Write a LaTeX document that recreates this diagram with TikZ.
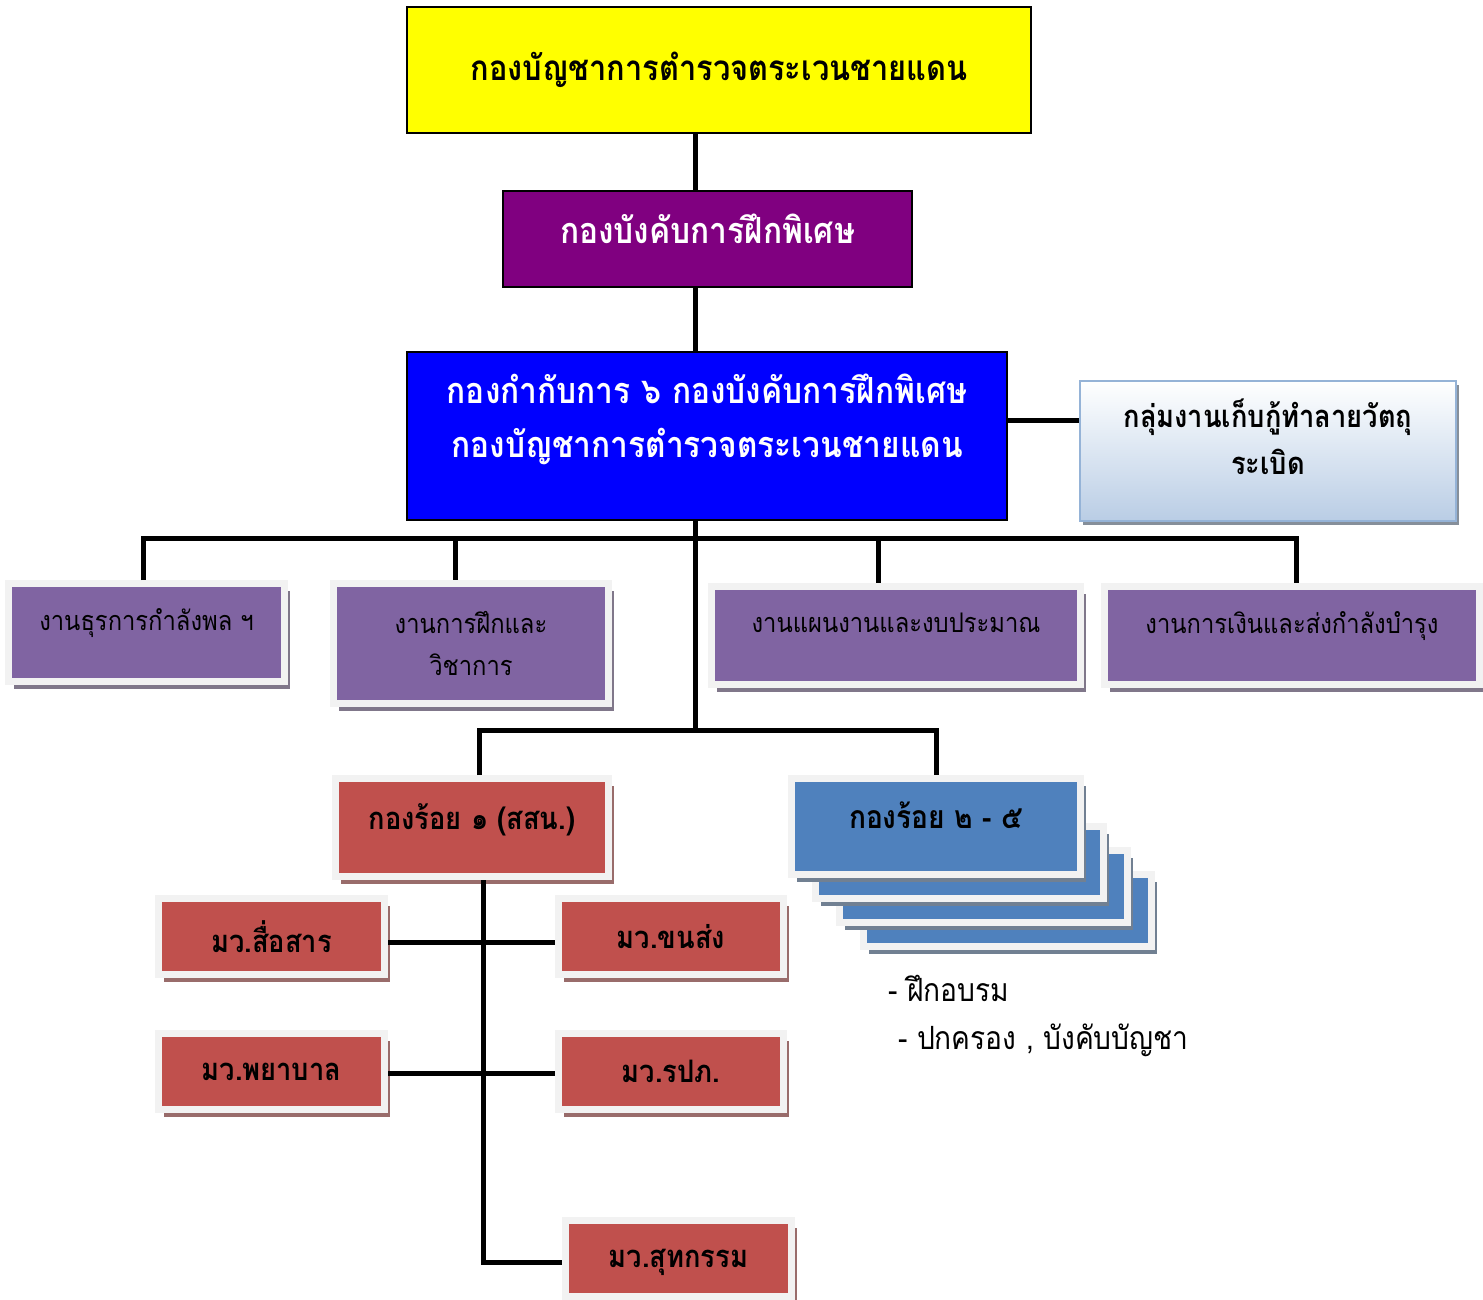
\documentclass[tikz,border=0pt]{standalone}
\usepackage{fontspec}
\newfontfamily\thai[Script=Thai, FakeStretch=0.88]{Loma}
\usetikzlibrary{shadows}

\definecolor{topyellow}{HTML}{FFFF00}
\definecolor{cmdpurple}{HTML}{800080}
\definecolor{mainblue}{HTML}{0000FF}
\definecolor{rowpurple}{HTML}{8064A2}
\definecolor{coyred}{HTML}{C0504D}
\definecolor{coyblue}{HTML}{4F81BD}
\definecolor{framegray}{HTML}{F2F2F2}
\definecolor{grpline}{HTML}{95B3D7}
\definecolor{grpfill}{HTML}{B9CDE5}

\tikzset{
  conn/.style={line width=5pt},
  headbox/.style={draw=black, line width=1.5pt, align=center, font=\thai\bfseries},
  framed/.style={draw=framegray, line width=7pt, align=center,
    drop shadow={shadow xshift=5.5pt, shadow yshift=-7.5pt, fill=#1, opacity=1}},
  rowbox/.style={framed=gray!70!rowpurple, fill=rowpurple, font=\thai\fontsize{27}{42}\selectfont},
  redbox/.style={framed=gray!60!coyred, fill=coyred, font=\thai\bfseries\fontsize{31}{36}\selectfont},
  bluebox/.style={framed=gray!70!coyblue, fill=coyblue, font=\thai\bfseries\fontsize{32}{36}\selectfont},
  note/.style={anchor=west, inner sep=0pt, font=\thai\fontsize{32}{36}\selectfont}
}

\begin{document}
\begin{tikzpicture}[x=1pt, y=-1pt]
    \useasboundingbox (0,0) rectangle (1483,1300);

    % Top: commands
    \node[headbox, fill=topyellow, minimum width=624, minimum height=126,
      font=\thai\bfseries\fontsize{35}{40}\selectfont] (hq) at (719,70) {กองบัญชาการตำรวจตระเวนชายแดน};
    \node[headbox, fill=cmdpurple, text=white, minimum width=409, minimum height=96, text depth=20pt,
      font=\thai\bfseries\fontsize{36}{40}\selectfont] (cmd) at (707.5,239) {กองบังคับการฝึกพิเศษ};
    \node[headbox, fill=mainblue, text=white, minimum width=600, minimum height=168, text depth=40pt,
      font=\thai\bfseries\fontsize{36}{54}\selectfont] (main) at (707,436)
      {กองกำกับการ ๖ กองบังคับการฝึกพิเศษ\\กองบัญชาการตำรวจตระเวนชายแดน};

    % Side group with gradient
    \node[draw=grpline, line width=2.5pt, top color=white, bottom color=grpfill,
      minimum width=376, minimum height=140, align=center, text depth=28pt,
      drop shadow={shadow xshift=3pt, shadow yshift=-4pt, fill=gray!70!grpline, opacity=1},
      font=\thai\bfseries\fontsize{31}{47}\selectfont] (grp) at (1268,451)
      {กลุ่มงานเก็บกู้ทำลายวัตถุ\\ระเบิด};

    % Sections row
    \node[rowbox, minimum width=276, minimum height=98, text depth=26pt] (sec1) at (146.5,632.5) {งานธุรการกำลังพล ฯ};
    \node[rowbox, minimum width=275, minimum height=120] (sec2) at (471,643.5) {งานการฝึกและ\\วิชาการ};
    \node[rowbox, minimum width=369, minimum height=98, text depth=26pt] (sec3) at (896,635.5) {งานแผนงานและงบประมาณ};
    \node[rowbox, minimum width=375, minimum height=98, text depth=26pt] (sec4) at (1292,635.5) {งานการเงินและส่งกำลังบำรุง};

    % Companies 2 - 5 (stacked copies behind)
    \foreach \i in {3,2,1}
      \node[bluebox, minimum width=288, minimum height=72] (stack\i) at (935.5+24*\i,838.5+24*\i) {};
    \node[bluebox, minimum width=289, minimum height=96, text depth=22pt] (coy2) at (936,826.5) {กองร้อย ๒ - ๕};

    % Company 1 and its platoons
    \node[redbox, minimum width=273, minimum height=98, text depth=22pt] (coy1) at (472,827.5) {กองร้อย ๑ (สสน.)};
    \node[redbox, minimum width=226, minimum height=76] (comm) at (271.5,936.5) {มว.สื่อสาร};
    \node[redbox, minimum width=225, minimum height=76] (trans) at (671,936.5) {มว.ขนส่ง};
    \node[redbox, minimum width=226, minimum height=76] (med) at (271.5,1071.5) {มว.พยาบาล};
    \node[redbox, minimum width=225, minimum height=76] (guard) at (671,1071.5) {มว.รปภ.};
    \node[redbox, minimum width=226, minimum height=76, text depth=0pt] (cook) at (678.5,1258.5) {มว.สุทกรรม};

    % Duties of companies 2 - 5
    \node[note] (duty1) at (888,988) {- ฝึกอบรม};
    \node[note] (duty2) at (898,1040) {- ปกครอง , บังคับบัญชา};

    % Junction points
    \coordinate (trunk) at (695,538);
    \coordinate (split) at (695,730);
    \coordinate (j1) at (143,538);
    \coordinate (j2) at (455,538);
    \coordinate (j3) at (878,538);
    \coordinate (j4) at (1296,538);
    \coordinate (jc1) at (479,730);
    \coordinate (jc2) at (936,730);
    \coordinate (pl) at (483,0);
    \coordinate (cookin) at ([yshift=-3.5pt]cook.west);

    % Connectors
    \draw[conn] (hq.south -| trunk) -- (cmd.north -| trunk);
    \draw[conn] (cmd.south -| trunk) -- (main.north -| trunk);
    \draw[conn] ([yshift=16pt]main.east) -- ([yshift=16pt]main.east -| grp.west);
    \draw[conn] (main.south -| trunk) -- (split);
    \draw[conn] (j1 |- sec1.north) -- (j1) -- (j4) -- (j4 |- sec4.north);
    \draw[conn] (j2) -- (j2 |- sec2.north);
    \draw[conn] (j3) -- (j3 |- sec3.north);
    \draw[conn] (jc1 |- coy1.north) -- (jc1) -- (jc2) -- (jc2 |- coy2.north);
    \draw[conn] (pl |- coy1.south) -- (pl |- cookin) -- (cookin);
    \draw[conn] ([yshift=-5.5pt]comm.east) -- ([yshift=-5.5pt]trans.west);
    \draw[conn] ([yshift=-2pt]med.east) -- ([yshift=-2pt]guard.west);

\end{tikzpicture}
\end{document}
